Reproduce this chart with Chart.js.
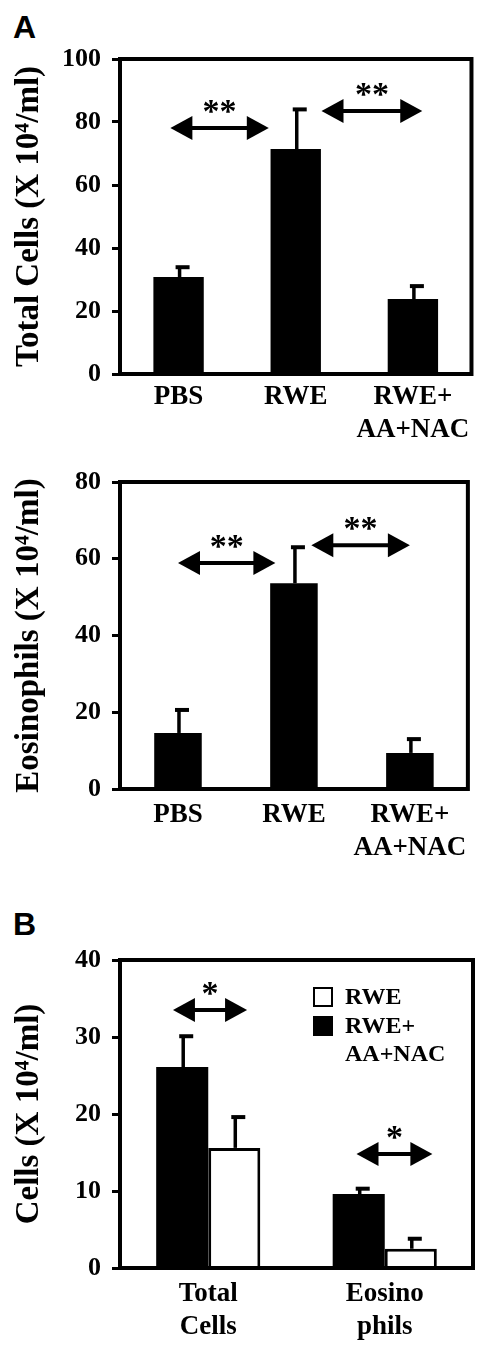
<!DOCTYPE html>
<html>
<head>
<meta charset="utf-8">
<script src="https://cdn.jsdelivr.net/npm/chart.js@4.4.0/dist/chart.umd.min.js"></script>
<style>
  html, body { margin: 0; padding: 0; background: #fff; }
  body { width: 477px; height: 1345px; position: relative; overflow: hidden; }
  .panel { position: absolute; left: 0; width: 477px; }
  .tag { position: absolute; font-family: 'Liberation Sans', Arial, sans-serif; font-weight: bold; font-size: 32px; line-height: 1; }
</style>
</head>
<body>
<div class="tag" style="left:13px;top:11px">A</div>
<div class="panel" style="top:0;height:440px"><canvas id="totalChart" width="477" height="440"></canvas></div>
<div class="panel" style="top:440px;height:440px"><canvas id="eosChart" width="477" height="440"></canvas></div>
<div class="tag" style="left:13px;top:908px">B</div>
<div class="panel" style="top:880px;height:465px"><canvas id="pairChart" width="477" height="465"></canvas></div>

<script>
// --- panel A, top: total cells
const groupsA = ['PBS', 'RWE', ['RWE+', 'AA+NAC']];
const totalMean = [30.8, 71.4, 23.8];
const totalErr = [3.1, 12.6, 4.1];
const totalTicks = [0, 20, 40, 60, 80, 100];
const totalSigFrom = [-0.07, 1.22];
const totalSigTo = [0.77, 2.08];
const totalSigAt = [78.1, 83.5];
const totalSigText = ['**', '**'];

// --- panel A, bottom: eosinophils
const eosMean = [14.6, 53.6, 9.4];
const eosErr = [6.0, 9.4, 3.6];
const eosTicks = [0, 20, 40, 60, 80];
const eosSigFrom = [0.0, 1.15];
const eosSigTo = [0.84, 2.0];
const eosSigAt = [58.9, 63.5];
const eosSigText = ['**', '**'];

// --- panel B: RWE vs RWE+AA+NAC
const groupsB = [['Total', 'Cells'], ['Eosino', 'phils']];
const seriesB = ['RWE+AA+NAC', 'RWE'];
const treatedMean = [26.1, 9.6];
const treatedErr = [4.0, 0.7];
const rweMean = [15.6, 2.5];
const rweErr = [4.0, 1.3];
const pairTicks = [0, 10, 20, 30, 40];
const pairSigFrom = [-0.2, 0.84];
const pairSigTo = [0.22, 1.27];
const pairSigAt = [33.5, 14.8];
const pairSigText = ['*', '*'];
const legendNames = ['RWE', ['RWE+', 'AA+NAC']];
const legendFill = ['#ffffff', '#000000'];

const SERIF = "'Liberation Serif', 'Times New Roman', serif";

// box round the plot area
const frame = {
  id: 'frame',
  afterDatasetsDraw(chart) {
    const a = chart.chartArea, ctx = chart.ctx;
    ctx.save();
    ctx.lineWidth = 4;
    ctx.strokeStyle = '#000';
    ctx.strokeRect(a.left, a.top, a.right - a.left, a.bottom - a.top);
    ctx.restore();
  }
};

// one-sided error bars (upper only), cap sits a bit to the right
const errorBars = {
  id: 'errorBars',
  afterDatasetsDraw(chart, args, opts) {
    const ctx = chart.ctx, ys = chart.scales.y;
    chart.data.datasets.forEach((ds, di) => {
      const meta = chart.getDatasetMeta(di);
      const errs = opts.errors[di] || [];
      meta.data.forEach((bar, i) => {
        const x = bar.x + 1;
        const top = ys.getPixelForValue(ds.data[i] + errs[i]);
        ctx.save();
        ctx.strokeStyle = '#000';
        ctx.lineWidth = 3.5;
        ctx.beginPath(); ctx.moveTo(x, bar.y); ctx.lineTo(x, top); ctx.stroke();
        ctx.lineWidth = 4;
        ctx.beginPath(); ctx.moveTo(x - 4, top); ctx.lineTo(x + 10, top); ctx.stroke();
        ctx.restore();
      });
    });
  }
};

// double-headed significance arrows with stars
const sigArrows = {
  id: 'sigArrows',
  afterDatasetsDraw(chart, args, opts) {
    const ctx = chart.ctx, xs = chart.scales.x, ys = chart.scales.y;
    const hl = 22, hw = 12;
    opts.from.forEach((f, k) => {
      const x1 = xs.getPixelForValue(f), x2 = xs.getPixelForValue(opts.to[k]);
      const yy = ys.getPixelForValue(opts.at[k]);
      ctx.save();
      ctx.fillStyle = ctx.strokeStyle = '#000';
      ctx.lineWidth = 4;
      ctx.beginPath(); ctx.moveTo(x1 + hl - 2, yy); ctx.lineTo(x2 - hl + 2, yy); ctx.stroke();
      ctx.beginPath(); ctx.moveTo(x1, yy); ctx.lineTo(x1 + hl, yy - hw); ctx.lineTo(x1 + hl, yy + hw); ctx.closePath(); ctx.fill();
      ctx.beginPath(); ctx.moveTo(x2, yy); ctx.lineTo(x2 - hl, yy - hw); ctx.lineTo(x2 - hl, yy + hw); ctx.closePath(); ctx.fill();
      ctx.font = 'bold 34px ' + SERIF;
      ctx.textAlign = 'center';
      ctx.textBaseline = 'alphabetic';
      ctx.fillText(opts.text[k], (x1 + x2) / 2, yy - 6);
      ctx.restore();
    });
  }
};

// small legend inside panel B
const boxLegend = {
  id: 'boxLegend',
  afterDatasetsDraw(chart, args, opts) {
    if (!opts.names) return;
    const ctx = chart.ctx, a = chart.chartArea;
    let y = a.top + 28;
    ctx.save();
    ctx.font = 'bold 24px ' + SERIF;
    ctx.textBaseline = 'middle';
    ctx.textAlign = 'left';
    opts.names.forEach((name, k) => {
      const lines = Array.isArray(name) ? name : [name];
      ctx.fillStyle = opts.fill[k];
      ctx.fillRect(a.left + 194, y, 18, 18);
      ctx.lineWidth = 2;
      ctx.strokeStyle = '#000';
      ctx.strokeRect(a.left + 194, y, 18, 18);
      ctx.fillStyle = '#000';
      lines.forEach((ln, j) => ctx.fillText(ln, a.left + 225, y + 10 + j * 28));
      y += 29;
    });
    ctx.restore();
  }
};

function makeChart(id, cfg) {
  return new Chart(document.getElementById(id), {
    type: 'bar',
    data: { labels: cfg.labels, datasets: cfg.datasets },
    options: {
      responsive: false,
      animation: false,
      layout: { padding: { top: cfg.top, right: 4, left: 0, bottom: 0 } },
      plugins: {
        legend: { display: false },
        tooltip: { enabled: false },
        errorBars: { errors: cfg.errors },
        sigArrows: cfg.sig,
        boxLegend: cfg.legend || {}
      },
      scales: {
        x: {
          grid: { display: false, drawTicks: false },
          border: { display: false },
          ticks: {
            color: '#000', padding: cfg.xPad, autoSkip: false, maxRotation: 0, minRotation: 0,
            font: { family: SERIF, weight: 'bold', size: 27, lineHeight: 1.2 }
          },
          afterFit(s) { s.height = cfg.xHeight; }
        },
        y: {
          min: 0,
          max: cfg.ticks[cfg.ticks.length - 1],
          afterBuildTicks(s) { s.ticks = cfg.ticks.map(v => ({ value: v })); },
          grid: { drawOnChartArea: false, drawTicks: true, tickLength: 8, lineWidth: 3, color: '#000' },
          border: { display: false },
          ticks: { color: '#000', padding: 11, font: { family: SERIF, weight: 'bold', size: 26 } },
          title: {
            display: true, text: cfg.title, color: '#000',
            padding: { top: 10, bottom: 0 },
            font: { family: SERIF, weight: 'bold', size: 33, lineHeight: 1.2 }
          },
          afterFit(s) { s.width = 120; }
        }
      }
    },
    plugins: [frame, errorBars, sigArrows, boxLegend]
  });
}

makeChart('totalChart', {
  labels: groupsA,
  datasets: [{ data: totalMean, backgroundColor: '#000', barPercentage: 0.43, categoryPercentage: 1 }],
  errors: [totalErr],
  ticks: totalTicks,
  title: 'Total Cells (X 10\u2074/ml)',
  top: 59, xHeight: 66, xPad: 7,
  sig: { from: totalSigFrom, to: totalSigTo, at: totalSigAt, text: totalSigText }
});

makeChart('eosChart', {
  labels: groupsA,
  datasets: [{ data: eosMean, backgroundColor: '#000', barPercentage: 0.41, categoryPercentage: 1 }],
  errors: [eosErr],
  ticks: eosTicks,
  title: 'Eosinophils (X 10\u2074/ml)',
  top: 42, xHeight: 91, xPad: 10,
  sig: { from: eosSigFrom, to: eosSigTo, at: eosSigAt, text: eosSigText }
});

makeChart('pairChart', {
  labels: groupsB,
  datasets: [
    { label: seriesB[0], data: treatedMean, backgroundColor: '#000', barPercentage: 1, categoryPercentage: 0.59 },
    { label: seriesB[1], data: rweMean, backgroundColor: '#fff', borderColor: '#000', borderWidth: 3, barPercentage: 1, categoryPercentage: 0.59 }
  ],
  errors: [treatedErr, rweErr],
  ticks: pairTicks,
  title: 'Cells (X 10\u2074/ml)',
  top: 80, xHeight: 77, xPad: 10,
  sig: { from: pairSigFrom, to: pairSigTo, at: pairSigAt, text: pairSigText },
  legend: { names: legendNames, fill: legendFill }
});
</script>
</body>
</html>
